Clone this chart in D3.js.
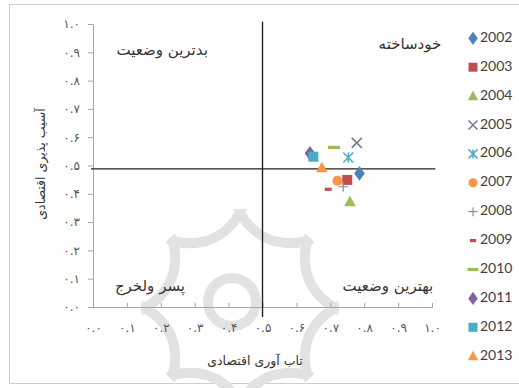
<!DOCTYPE html>
<html>
<head>
<meta charset="utf-8">
<script src="https://cdn.jsdelivr.net/npm/d3@7/dist/d3.min.js"></script>
<style>
  html, body { margin: 0; padding: 0; background: #fff; }
  svg { display: block; }
</style>
</head>
<body>
<svg id="chart" width="519" height="388"></svg>
<script>
// Economic resilience (x) vs economic vulnerability (y), one point per year
const years = ["2002","2003","2004","2005","2006","2007","2008","2009","2010","2011","2012","2013"];
const resilience    = [0.786, 0.750, 0.758, 0.778, 0.753, 0.721, 0.738, 0.694, 0.711, 0.640, 0.650, 0.675];
const vulnerability = [0.472, 0.449, 0.372, 0.580, 0.528, 0.446, 0.425, 0.416, 0.564, 0.543, 0.531, 0.492];
const markers = ["diamond","square","triangle","x","asterisk","circle","plus","shortdash","longdash","diamond","square","triangle"];
const colors  = ["#4f81bd","#c0504d","#9bbb59","#7d7596","#4bacc6","#f79646","#8c929c","#c0504d","#9bbb59","#8064a2","#4bacc6","#f79646"];

const tickValues = [0, 0.1, 0.2, 0.3, 0.4, 0.5, 0.6, 0.7, 0.8, 0.9, 1.0];
const xThreshold = 0.5;   // vertical divider
const yThreshold = 0.488; // horizontal divider
const quadrantLabels = [
  { text: "بدترین وضعیت", x: 0.204, y: 0.908 },
  { text: "خودساخته",     x: 0.935, y: 0.926 },
  { text: "پسر ولخرج",    x: 0.168, y: 0.071 },
  { text: "بهترین وضعیت", x: 0.870, y: 0.071 }
];
const xTitle = "تاب آوری اقتصادی";
const yTitle = "آسیب پذیری اقتصادی";

const faDigits = "۰۱۲۳۴۵۶۷۸۹";
const toFa = s => s.replace(/[0-9]/g, d => faDigits[+d]);
const fmt = v => toFa(v.toFixed(1));

const svg = d3.select("#chart");
const W = 519;
const persianFont = "'DejaVu Sans', 'Noto Sans', sans-serif";

// chart frame
svg.append("rect").attr("x", 9.5).attr("y", 4.5).attr("width", W).attr("height", 379)
  .attr("fill", "#fff").attr("stroke", "#d0d0d0");

// faint rosette watermark: an eight-pointed star with concave sides,
// each side being the inner arc of a circle placed on an outer ring
const wc = [240, 308], tip = 96, ring = 130;
const half = Math.PI / 8;
const petal = Math.hypot(ring * Math.cos(half) - tip, ring * Math.sin(half));
const defs = svg.append("defs");
defs.append("clipPath").attr("id", "rosetteClip")
  .append("circle").attr("cx", wc[0]).attr("cy", wc[1]).attr("r", tip + 3);
const wmColor = "#e2e2e2";
const star = svg.append("g").attr("clip-path", "url(#rosetteClip)");
for (let k = 0; k < 8; k++) {
  const a = -Math.PI / 2 + half + k * Math.PI / 4;
  star.append("circle")
    .attr("cx", wc[0] + ring * Math.cos(a)).attr("cy", wc[1] + ring * Math.sin(a))
    .attr("r", petal)
    .attr("fill", "none").attr("stroke", wmColor).attr("stroke-width", 10);
}
// inner ring of the rosette
svg.append("path")
  .attr("d", d3.arc().innerRadius(19).outerRadius(29).startAngle(0).endAngle(2 * Math.PI)())
  .attr("transform", "translate(232,302)")
  .attr("fill", wmColor);

const x = d3.scaleLinear().domain([0, 1]).range([93, 432]);
const y = d3.scaleLinear().domain([0, 1]).range([307, 24]);

// y axis
const yAxis = svg.append("g").attr("transform", `translate(${x(0)},0)`)
  .call(d3.axisLeft(y).tickValues(tickValues).tickFormat(fmt).tickSize(5).tickPadding(8));
// x axis (tick marks point into the plot)
const xAxis = svg.append("g").attr("transform", `translate(0,${y(0)})`)
  .call(d3.axisBottom(x).tickValues(tickValues).tickFormat(fmt).tickSize(-4).tickPadding(16));
[yAxis, xAxis].forEach(g => {
  g.select(".domain").attr("stroke", "#a6a6a6");
  g.selectAll(".tick line").attr("stroke", "#a6a6a6");
  g.selectAll(".tick text").attr("fill", "#555").style("font-family", persianFont).style("font-size", "12px");
});

// quadrant divider lines
svg.append("line")
  .attr("x1", x(xThreshold)).attr("x2", x(xThreshold))
  .attr("y1", y(1.008)).attr("y2", y(-0.035))
  .attr("stroke", "#222").attr("stroke-width", 1.4);
svg.append("line")
  .attr("x1", x(-0.006)).attr("x2", x(1.01))
  .attr("y1", y(yThreshold)).attr("y2", y(yThreshold))
  .attr("stroke", "#222").attr("stroke-width", 1.4);

// quadrant labels
svg.append("g").selectAll("text").data(quadrantLabels).join("text")
  .attr("x", d => x(d.x)).attr("y", d => y(d.y))
  .attr("text-anchor", "middle").attr("dominant-baseline", "middle")
  .attr("fill", "#333").style("font-family", persianFont).style("font-size", "15px")
  .attr("direction", "rtl")
  .text(d => d.text);

// axis titles
svg.append("text").attr("x", 255).attr("y", 361)
  .attr("text-anchor", "middle").attr("dominant-baseline", "middle").attr("direction", "rtl")
  .attr("fill", "#333").style("font-family", persianFont).style("font-size", "12.5px")
  .text(xTitle);
svg.append("text").attr("transform", "translate(41,164) rotate(-90)")
  .attr("text-anchor", "middle").attr("dominant-baseline", "middle").attr("direction", "rtl")
  .attr("fill", "#333").style("font-family", persianFont).style("font-size", "12.5px")
  .text(yTitle);

// marker drawing
function drawMarker(g, type, color, s) {
  switch (type) {
    case "diamond":
      g.append("path").attr("d", d3.symbol(d3.symbolDiamond, s * s * 0.62)()).attr("fill", color).attr("transform", "scale(1.25,1)");
      break;
    case "square":
      g.append("rect").attr("x", -s / 2).attr("y", -s / 2).attr("width", s).attr("height", s).attr("fill", color);
      break;
    case "triangle":
      g.append("path").attr("d", `M0,${-s * 0.6}L${s * 0.58},${s * 0.45}L${-s * 0.58},${s * 0.45}Z`).attr("fill", color);
      break;
    case "circle":
      g.append("circle").attr("r", s / 2).attr("fill", color);
      break;
    case "x":
      g.append("path").attr("d", `M${-s / 2},${-s / 2}L${s / 2},${s / 2}M${-s / 2},${s / 2}L${s / 2},${-s / 2}`)
        .attr("stroke", color).attr("stroke-width", 1.5);
      break;
    case "asterisk":
      g.append("path").attr("d", `M${-s / 2},${-s / 2}L${s / 2},${s / 2}M${-s / 2},${s / 2}L${s / 2},${-s / 2}M0,${-s / 2}L0,${s / 2}`)
        .attr("stroke", color).attr("stroke-width", 1.5);
      break;
    case "plus":
      g.append("path").attr("d", `M${-s / 2},0L${s / 2},0M0,${-s / 2}L0,${s / 2}`)
        .attr("stroke", color).attr("stroke-width", 1.2);
      break;
    case "shortdash":
      g.append("rect").attr("x", -s * 0.35).attr("y", -1.6).attr("width", s * 0.7).attr("height", 3.2).attr("fill", color);
      break;
    case "longdash":
      g.append("rect").attr("x", -s * 0.6).attr("y", -1.6).attr("width", s * 1.2).attr("height", 3.2).attr("fill", color);
      break;
  }
}

// data points
const pts = svg.append("g");
years.forEach((yr, i) => {
  const g = pts.append("g").attr("transform", `translate(${x(resilience[i])},${y(vulnerability[i])})`);
  drawMarker(g, markers[i], colors[i], 10);
});

// legend
const legend = svg.append("g");
years.forEach((yr, i) => {
  const ly = 38.3 + i * 28.9;
  const g = legend.append("g").attr("transform", `translate(473,${ly})`);
  drawMarker(g, markers[i], colors[i], 9);
  legend.append("text").attr("x", 480).attr("y", ly).attr("dominant-baseline", "middle")
    .attr("fill", "#404040").style("font-family", "Lato, 'Open Sans', sans-serif").style("font-size", "14px")
    .text(yr);
});
</script>
</body>
</html>
